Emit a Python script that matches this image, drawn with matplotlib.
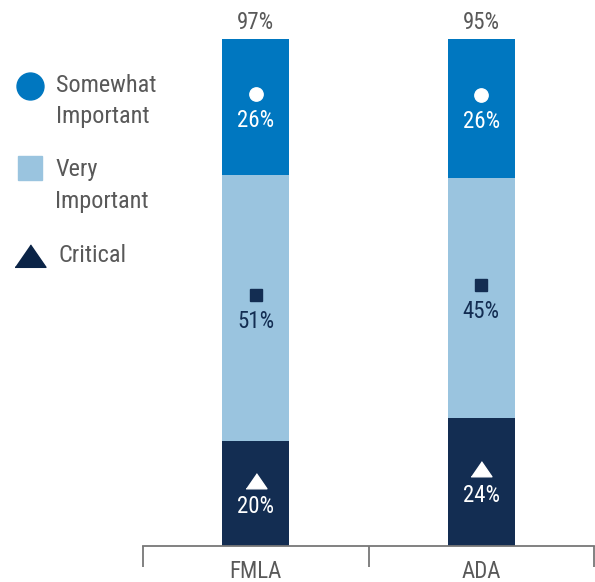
import matplotlib
matplotlib.use("Agg")
import matplotlib.pyplot as plt
import matplotlib.transforms as mtransforms
from matplotlib.lines import Line2D
import numpy as np

plt.rcParams['font.family'] = ['Roboto Condensed', 'DejaVu Sans']

categories = ["FMLA", "ADA"]
critical = [20, 24]
very_important = [51, 45]
somewhat_important = [26, 26]
totals = ["97%", "95%"]

series_names = ["Somewhat\nImportant", "Very\nImportant", "Critical"]
c_some = "#0077C0"
c_very = "#9AC4DF"
c_crit = "#132D52"
gray = "#595959"

W, H = 595, 582
fig = plt.figure(figsize=(W / 100, H / 100), dpi=100)
ax = fig.add_axes([143 / W, (H - 546) / H, 451 / W, 507 / H])

x = np.arange(len(categories))
crit = np.array(critical, float)
very = np.array(very_important, float)
some = np.array(somewhat_important, float)
tot = crit + very + some
crit_n = crit / tot * 100
very_n = very / tot * 100
some_n = some / tot * 100

bw = 0.297
ax.bar(x, crit_n, bw, color=c_crit)
ax.bar(x, very_n, bw, bottom=crit_n, color=c_very)
ax.bar(x, some_n, bw, bottom=crit_n + very_n, color=c_some)

tri_verts = [(-1, -0.7), (1, -0.7), (0, 0.75)]
fs = 16.5
up = ax.transData + mtransforms.ScaledTranslation(0, 13 / 100, fig.dpi_scale_trans)
for i in range(len(x)):
    segs = [
        (crit_n[i] / 2, critical[i], tri_verts, 15, "white", "white"),
        (crit_n[i] + very_n[i] / 2, very_important[i], "s", 8.6, c_crit, c_crit),
        (crit_n[i] + very_n[i] + some_n[i] / 2, somewhat_important[i], "o", 9.6, "white", "white"),
    ]
    for yc, val, mk, ms, mcol, tcol in segs:
        ax.plot([x[i]], [yc], linestyle="none", marker=mk, markersize=ms,
                color=mcol, transform=up)
        ax.annotate(f"{val}%", xy=(x[i], yc), xytext=(0, -9.5), textcoords="offset points",
                    ha="center", va="center", color=tcol, fontsize=fs)
    ax.annotate(totals[i], xy=(x[i], 100), xytext=(0, 12), textcoords="offset points",
                ha="center", va="center", color=gray, fontsize=fs, annotation_clip=False)

ax.set_xlim(-0.5, 1.5)
ax.set_ylim(0, 100)
for s in ["left", "right", "top"]:
    ax.spines[s].set_visible(False)
ax.spines["bottom"].set_color("#777777")
ax.spines["bottom"].set_linewidth(1.3)
ax.set_yticks([])
ax.set_xticks(x)
ax.set_xticklabels(categories, color=gray, fontsize=fs)
ax.tick_params(axis="x", which="major", length=0, pad=10)
ax.set_xticks([-0.5, 0.5, 1.5], minor=True)
ax.tick_params(axis="x", which="minor", length=15, width=1.3, color="#777777", direction="out")

def fx(px):
    return px / W

def fy(py):
    return (H - py) / H

fig.add_artist(Line2D([fx(30)], [fy(86)], marker="o", markersize=19.4, color=c_some, linestyle="none"))
fig.add_artist(Line2D([fx(30)], [fy(168)], marker="s", markersize=17.3, color=c_very, linestyle="none"))
fig.add_artist(Line2D([fx(30)], [fy(256)], marker=tri_verts, markersize=22.3, color="#0B2447", linestyle="none"))
lfs = 17.5
fig.text(fx(56), fy(101), series_names[0], color=gray, fontsize=lfs, va="center", ha="left", linespacing=1.45)
fig.text(fx(55), fy(185.5), series_names[1], color=gray, fontsize=lfs, va="center", ha="left", linespacing=1.45)
fig.text(fx(58), fy(255), series_names[2], color=gray, fontsize=lfs, va="center", ha="left")

fig.savefig("out.png", dpi=100)
